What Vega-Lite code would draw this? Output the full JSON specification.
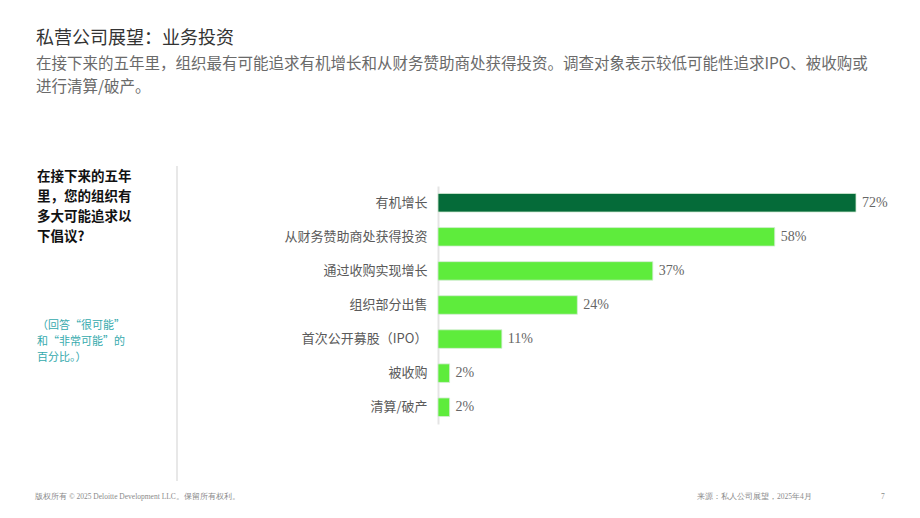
{
  "$schema": "https://vega.github.io/schema/vega-lite/v6.json",
  "autosize": {"type": "none"},
  "width": 418,
  "height": 238,
  "padding": {"left": 438, "top": 186, "right": 64, "bottom": 94},
  "background": "white",
  "config": {"view": {"stroke": null}, "font": "Noto Sans CJK SC"},
  "title": {
    "text": "私营公司展望：业务投资",
    "subtitle": ["在接下来的五年里，组织最有可能追求有机增长和从财务赞助商处获得投资。调查对象表示较低可能性追求IPO、被收购或", "进行清算/破产。"],
    "anchor": "start",
    "frame": "group",
    "orient": "top",
    "dx": -402,
    "offset": 70,
    "font": "Noto Sans CJK SC",
    "fontSize": 18,
    "fontWeight": "normal",
    "color": "#333333",
    "subtitleFont": "Noto Sans CJK SC",
    "subtitleFontSize": 15.5,
    "subtitleColor": "#6a6a6a",
    "subtitleLineHeight": 23,
    "subtitlePadding": 9
  },
  "datasets": {
    "bars": [
      {"item": "有机增长", "value": 72, "label": "72%", "highlight": "yes"},
      {"item": "从财务赞助商处获得投资", "value": 58, "label": "58%", "highlight": "no"},
      {"item": "通过收购实现增长", "value": 37, "label": "37%", "highlight": "no"},
      {"item": "组织部分出售", "value": 24, "label": "24%", "highlight": "no"},
      {"item": "首次公开募股（IPO）", "value": 11, "label": "11%", "highlight": "no"},
      {"item": "被收购", "value": 2, "label": "2%", "highlight": "no"},
      {"item": "清算/破产", "value": 2, "label": "2%", "highlight": "no"}
    ]
  },
  "layer": [
    {
      "data": {"name": "bars"},
      "mark": {"type": "bar", "stroke": "#d4ecd4", "strokeWidth": 0.8},
      "encoding": {
        "y": {
          "field": "item", "type": "nominal", "sort": null,
          "scale": {"paddingInner": 0.456, "paddingOuter": 0.22},
          "axis": {
            "title": null, "ticks": false, "domain": true, "domainColor": "#e4e4e4", "domainWidth": 2,
            "labelFont": "Noto Sans CJK SC", "labelFontSize": 13, "labelColor": "#5a5a5a",
            "labelPadding": 11, "labelLimit": 300
          }
        },
        "x": {
          "field": "value", "type": "quantitative",
          "scale": {"domain": [0, 72], "nice": false, "zero": true},
          "axis": null
        },
        "color": {
          "field": "highlight", "type": "nominal",
          "scale": {"domain": ["yes", "no"], "range": ["#056B39", "#5EEC3C"]},
          "legend": null
        }
      }
    },
    {
      "data": {"name": "bars"},
      "mark": {"type": "text", "align": "left", "baseline": "middle", "dx": 6, "font": "Liberation Serif", "fontSize": 14, "color": "#666666"},
      "encoding": {
        "y": {"field": "item", "type": "nominal", "sort": null},
        "x": {"field": "value", "type": "quantitative"},
        "text": {"field": "label"}
      }
    },
    {
      "data": {"values": [{"a": 1}]},
      "mark": {"type": "rule", "stroke": "#e0e0e0", "strokeWidth": 1.5},
      "encoding": {
        "x": {"value": -261},
        "y": {"value": -20},
        "y2": {"value": 295}
      }
    },
    {
      "data": {"values": [{"a": 1}]},
      "mark": {"type": "text", "align": "left", "baseline": "middle", "font": "Noto Sans CJK SC", "fontSize": 13.5, "fontWeight": "bold", "color": "#111111", "lineHeight": 20,
        "text": ["在接下来的五年", "里，您的组织有", "多大可能追求以", "下倡议?"]},
      "encoding": {
        "x": {"value": -401},
        "y": {"value": -9}
      }
    },
    {
      "data": {"values": [{"a": 1}]},
      "mark": {"type": "text", "align": "left", "baseline": "middle", "font": "Noto Sans CJK SC", "fontSize": 11, "color": "#35AAAD", "lineHeight": 16,
        "text": ["（回答“很可能”", "和“非常可能”的", "百分比。）"]},
      "encoding": {
        "x": {"value": -401},
        "y": {"value": 140}
      }
    },
    {
      "data": {"values": [{"a": 1}]},
      "mark": {"type": "text", "align": "left", "baseline": "middle", "font": "Liberation Serif", "fontSize": 7.5, "color": "#8a8a8a",
        "text": "版权所有 © 2025 Deloitte Development LLC。保留所有权利。"},
      "encoding": {"x": {"value": -403}, "y": {"value": 311}}
    },
    {
      "data": {"values": [{"a": 1}]},
      "mark": {"type": "text", "align": "left", "baseline": "middle", "font": "Liberation Serif", "fontSize": 7.5, "color": "#8a8a8a",
        "text": "来源：私人公司展望，2025年4月"},
      "encoding": {"x": {"value": 259}, "y": {"value": 311}}
    },
    {
      "data": {"values": [{"a": 1}]},
      "mark": {"type": "text", "align": "left", "baseline": "middle", "font": "Liberation Serif", "fontSize": 7.5, "color": "#8a8a8a",
        "text": "7"},
      "encoding": {"x": {"value": 443}, "y": {"value": 311}}
    }
  ]
}
